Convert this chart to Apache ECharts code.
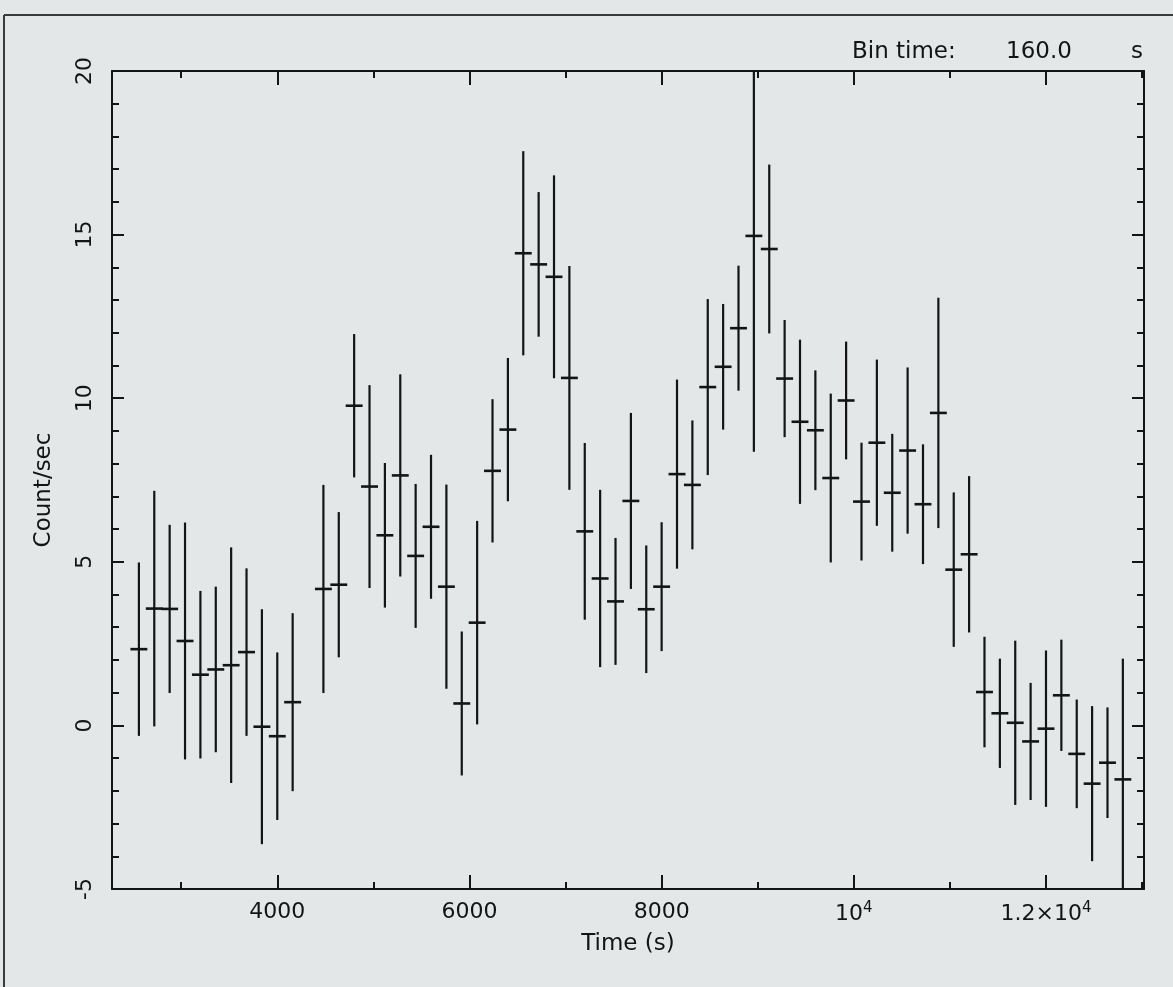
<!DOCTYPE html>
<html>
<head>
<meta charset="utf-8">
<title>Light curve</title>
<script src="https://cdn.jsdelivr.net/npm/echarts@6/dist/echarts.min.js"></script>
<style>
  html, body { margin: 0; padding: 0; background: #e4e7e8; }
  #chart { width: 1173px; height: 987px; }
</style>
</head>
<body>
<div id="chart"></div>
<script>
// bin centres (s), count rate and 1-sigma error, 160 s bins
const times = [
  2560, 2720, 2880, 3040, 3200, 3360, 3520, 3680, 3840, 4000, 4160,
  4480, 4640, 4800, 4960, 5120, 5280, 5440, 5600, 5760, 5920,
  6080, 6240, 6400, 6560, 6720, 6880, 7040, 7200, 7360, 7520,
  7680, 7840, 8000, 8160, 8320, 8480, 8640, 8800, 8960, 9120,
  9280, 9440, 9600, 9760, 9920, 10080, 10240, 10400, 10560, 10720,
  10880, 11040, 11200, 11360, 11520, 11680, 11840, 12000, 12160, 12320,
  12480, 12640, 12800
]
const rates = [
  2.33, 3.57, 3.56, 2.58, 1.55, 1.71, 1.84, 2.24, -0.04, -0.33, 0.71,
  4.17, 4.30, 9.77, 7.30, 5.81, 7.64, 5.18, 6.07, 4.24, 0.67,
  3.14, 7.78, 9.04, 14.43, 14.09, 13.71, 10.62, 5.93, 4.49, 3.79,
  6.86, 3.55, 4.24, 7.68, 7.35, 10.34, 10.96, 12.14, 14.96, 14.56,
  10.60, 9.28, 9.02, 7.56, 9.93, 6.84, 8.64, 7.11, 8.40, 6.76,
  9.55, 4.76, 5.23, 1.02, 0.37, 0.08, -0.49, -0.10, 0.92, -0.87,
  -1.78, -1.14, -1.65
]
const errors = [
  2.65, 3.60, 2.57, 3.62, 2.56, 2.53, 3.60, 2.56, 3.59, 2.56, 2.72,
  3.18, 2.22, 2.19, 3.10, 2.21, 3.09, 2.20, 2.20, 3.12, 2.20,
  3.11, 2.19, 2.19, 3.12, 2.21, 3.10, 3.42, 2.70, 2.71, 1.94,
  2.69, 1.95, 1.97, 2.89, 1.97, 2.69, 1.92, 1.91, 6.60, 2.58,
  1.79, 2.51, 1.83, 2.58, 1.80, 1.80, 2.54, 1.80, 2.54, 1.83,
  3.52, 2.36, 2.39, 1.69, 1.67, 2.51, 1.79, 2.39, 1.70, 1.66,
  2.37, 1.69, 3.69
]
const xTickValues = [4000, 6000, 8000, 10000, 12000]
const xTickLabels = ['4000', '6000', '8000', '10{sup|4}', '1.2×10{sup|4}']
const binLabel = ['Bin time:', '160.0', 's']

const ink = '#141414'
const font = 'DejaVu Sans'
const halfBin = 88

const chart = echarts.init(document.getElementById('chart'))

function renderErrorBar (params, api) {
  const t = api.value(0)
  const v = api.value(1)
  const e = api.value(2)
  const hi = api.coord([t, v + e])
  const lo = api.coord([t, v - e])
  const l = api.coord([t - halfBin, v])
  const r = api.coord([t + halfBin, v])
  return {
    type: 'group',
    children: [
      { type: 'line', shape: { x1: hi[0], y1: hi[1], x2: lo[0], y2: lo[1] }, style: { stroke: ink, lineWidth: 2.2 } },
      { type: 'line', shape: { x1: l[0], y1: l[1], x2: r[0], y2: r[1] }, style: { stroke: ink, lineWidth: 2.6 } }
    ]
  }
}

const lineStyle = { color: ink, width: 2 }
const xBase = {
  type: 'value',
  min: 2280,
  max: 13020,
  splitNumber: 5,
  axisLine: { show: true, onZero: false, lineStyle: lineStyle },
  axisTick: { show: true, inside: true, length: 14, lineStyle: lineStyle },
  minorTick: { show: true, splitNumber: 2, length: 7, lineStyle: lineStyle },
  splitLine: { show: false },
  minorSplitLine: { show: false }
}
const yBase = {
  type: 'value',
  min: -5,
  max: 20,
  interval: 5,
  axisLine: { show: true, onZero: false, lineStyle: lineStyle },
  axisTick: { show: true, inside: true, length: 12, lineStyle: lineStyle },
  minorTick: { show: true, splitNumber: 5, length: 7, lineStyle: lineStyle },
  splitLine: { show: false },
  minorSplitLine: { show: false }
}

const option = {
  backgroundColor: '#e4e7e8',
  animation: false,
  grid: { left: 112, right: 29, top: 71, bottom: 98 },
  xAxis: [
    Object.assign({}, xBase, {
      position: 'bottom',
      axisLabel: {
        showMinLabel: false,
        showMaxLabel: false,
        margin: 12,
        color: ink,
        fontFamily: font,
        fontSize: 22,
        formatter: function (val) {
          const i = xTickValues.indexOf(val)
          return i < 0 ? '' : xTickLabels[i]
        },
        rich: {
          sup: { fontFamily: font, fontSize: 15, color: ink, verticalAlign: 'top', padding: [0, 0, 12, 0] }
        }
      },
      name: 'Time (s)',
      nameLocation: 'middle',
      nameGap: 44,
      nameTextStyle: { color: ink, fontFamily: font, fontSize: 23 }
    }),
    Object.assign({}, xBase, { position: 'top', axisLabel: { show: false } })
  ],
  yAxis: [
    Object.assign({}, yBase, {
      position: 'left',
      axisLabel: { rotate: 90, margin: 16, color: ink, fontFamily: font, fontSize: 22 },
      name: 'Count/sec',
      nameLocation: 'middle',
      nameRotate: 90,
      nameGap: 56,
      nameTextStyle: { color: ink, fontFamily: font, fontSize: 23, padding: [0, 20, 0, 0] }
    }),
    Object.assign({}, yBase, { position: 'right', axisLabel: { show: false } })
  ],
  graphic: [
    { type: 'line', shape: { x1: 4, y1: 15, x2: 1173, y2: 15 }, style: { stroke: '#3a3a3a', lineWidth: 2 } },
    { type: 'line', shape: { x1: 4, y1: 15, x2: 4, y2: 987 }, style: { stroke: '#3a3a3a', lineWidth: 2 } },
    { type: 'text', x: 852, y: 52, style: { text: binLabel[0], fill: ink, font: '23px "DejaVu Sans"', verticalAlign: 'middle' } },
    { type: 'text', x: 1006, y: 52, style: { text: binLabel[1], fill: ink, font: '23px "DejaVu Sans"', verticalAlign: 'middle' } },
    { type: 'text', x: 1131, y: 52, style: { text: binLabel[2], fill: ink, font: '23px "DejaVu Sans"', verticalAlign: 'middle' } }
  ],
  series: [
    {
      type: 'custom',
      xAxisIndex: 0,
      yAxisIndex: 0,
      clip: true,
      renderItem: renderErrorBar,
      encode: { x: 0, y: 1 },
      data: times.map((t, i) => [t, rates[i], errors[i]])
    }
  ]
}
chart.setOption(option)
</script>
</body>
</html>
